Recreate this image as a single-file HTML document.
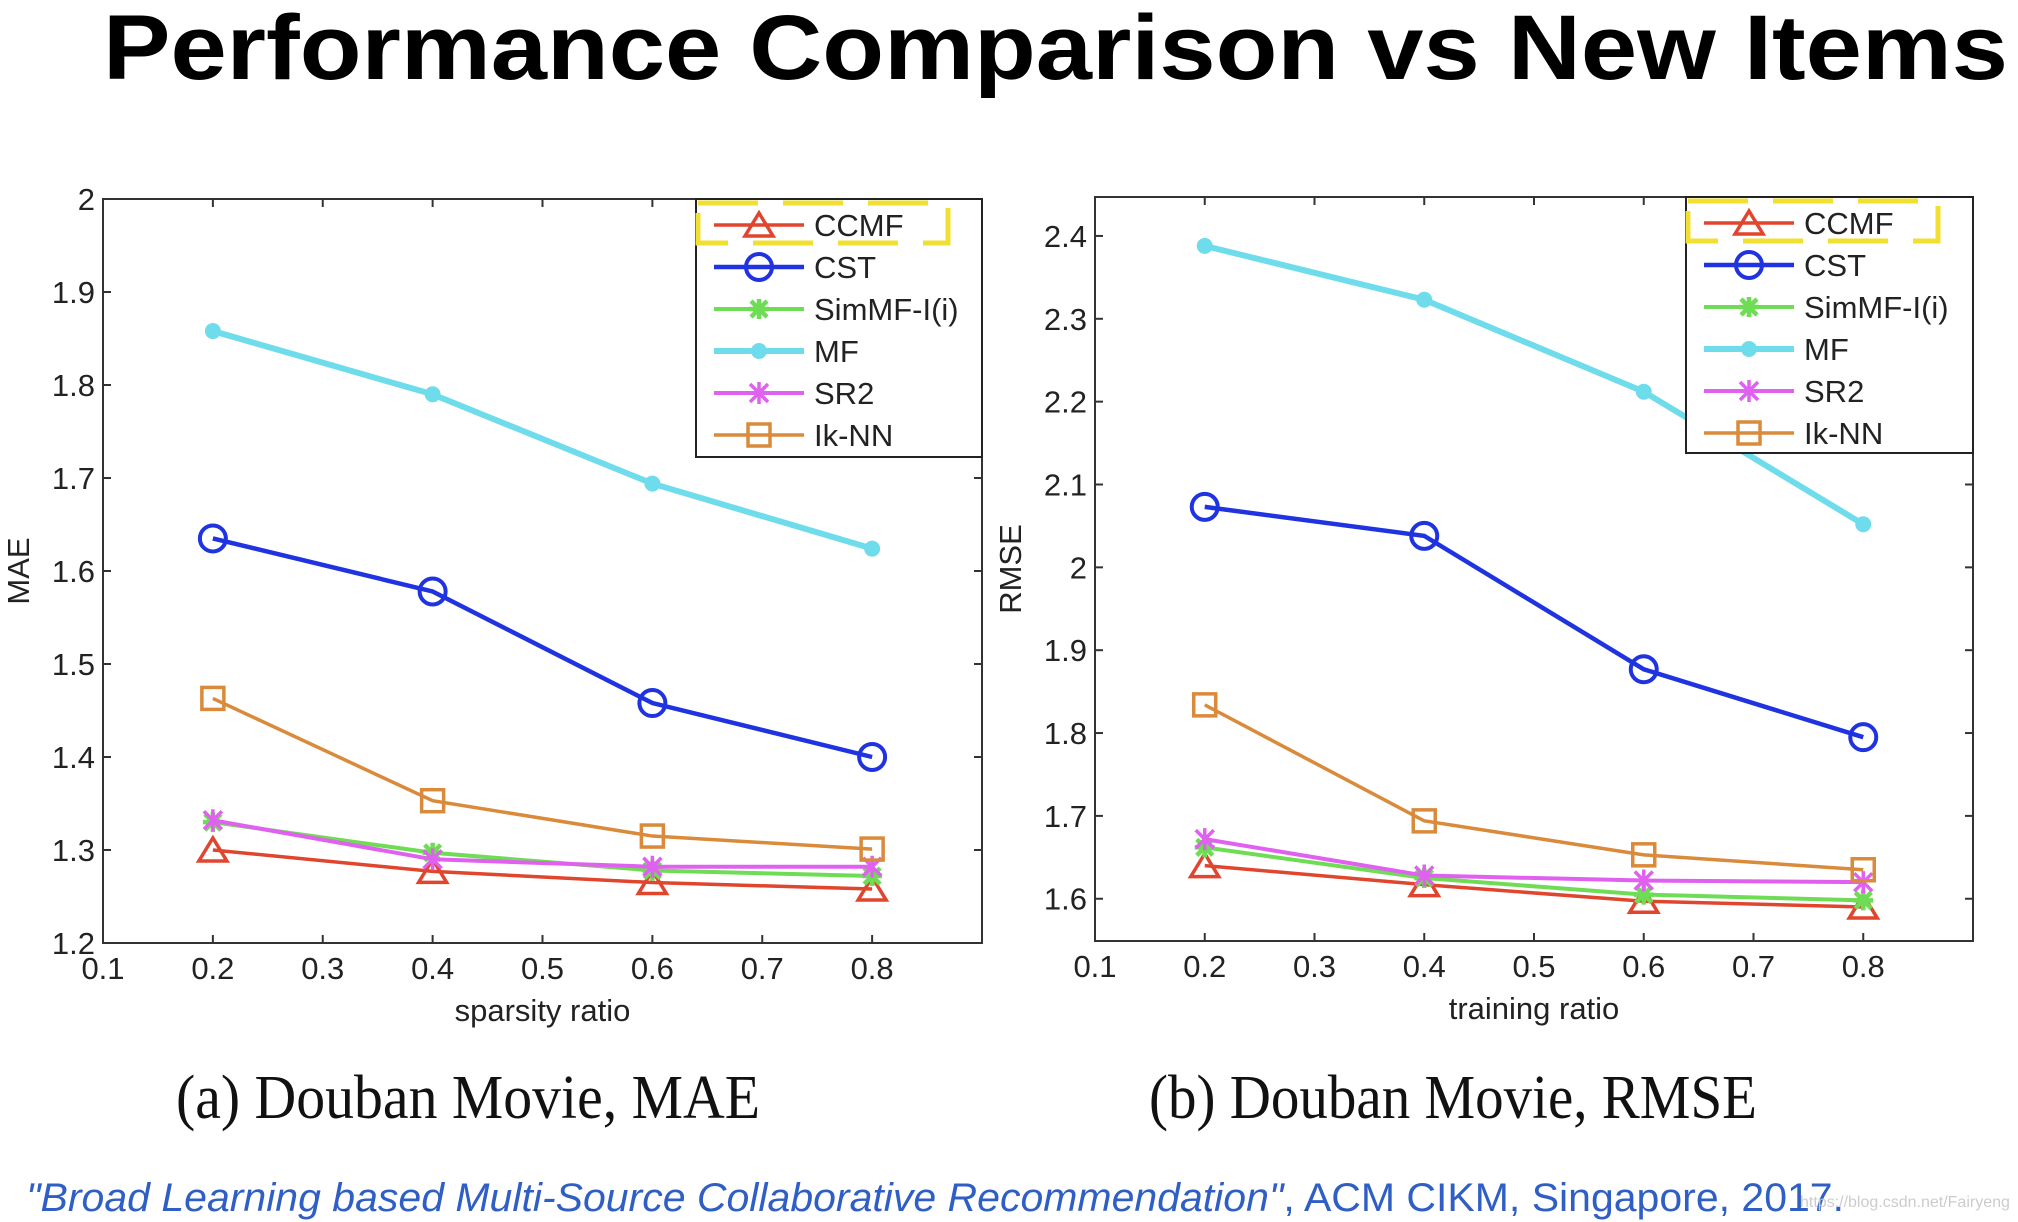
<!DOCTYPE html>
<html><head><meta charset="utf-8"><style>
html,body{margin:0;padding:0;background:#fff;width:2018px;height:1222px;overflow:hidden}
svg{display:block}
</style></head><body>
<svg id="root" width="2018" height="1222" viewBox="0 0 2018 1222" xmlns="http://www.w3.org/2000/svg">
<text x="103" y="79" font-family="Liberation Sans, sans-serif" font-weight="bold" font-size="92" fill="#000" textLength="1905" lengthAdjust="spacingAndGlyphs">Performance Comparison vs New Items</text>
<g id="chartA"></g>
<g id="chartB"></g>
<text x="176" y="1118" font-family="Liberation Serif, serif" font-size="62" fill="#111" textLength="584" lengthAdjust="spacingAndGlyphs">(a) Douban Movie, MAE</text>
<text x="1149" y="1118" font-family="Liberation Serif, serif" font-size="62" fill="#111" textLength="608" lengthAdjust="spacingAndGlyphs">(b) Douban Movie, RMSE</text>
<text x="26" y="1211" font-family="Liberation Sans, sans-serif" font-size="40" fill="#2f5fc4" textLength="1818" lengthAdjust="spacingAndGlyphs"><tspan font-style="italic">"Broad Learning based Multi-Source Collaborative Recommendation"</tspan>, ACM CIKM, Singapore, 2017.</text>
<text x="1800" y="1207" font-family="Liberation Sans, sans-serif" font-size="16" fill="#ccc">https://blog.csdn.net/Fairyeng</text>
</svg>
<script>
const xValues = [0.2, 0.4, 0.6, 0.8];
const xTicks = ["0.1","0.2","0.3","0.4","0.5","0.6","0.7","0.8"];
const seriesNames = ["CCMF","CST","SimMF-I(i)","MF","SR2","Ik-NN"];
const maeCCMF = [1.300, 1.277, 1.265, 1.258];
const maeCST = [1.635, 1.578, 1.458, 1.400];
const maeSimMF = [1.330, 1.297, 1.278, 1.272];
const maeMF = [1.858, 1.790, 1.694, 1.624];
const maeSR2 = [1.332, 1.290, 1.282, 1.282];
const maeIkNN = [1.463, 1.353, 1.315, 1.301];
const maeTicks = ["1.2","1.3","1.4","1.5","1.6","1.7","1.8","1.9","2"];
const rmseCCMF = [1.640, 1.617, 1.597, 1.590];
const rmseCST = [2.073, 2.038, 1.877, 1.795];
const rmseSimMF = [1.662, 1.625, 1.605, 1.598];
const rmseMF = [2.388, 2.323, 2.212, 2.052];
const rmseSR2 = [1.672, 1.628, 1.622, 1.620];
const rmseIkNN = [1.834, 1.694, 1.653, 1.635];
const rmseTicks = ["1.6","1.7","1.8","1.9","2","2.1","2.2","2.3","2.4"];

const NS = "http://www.w3.org/2000/svg";
const colors = ["#e0452e","#1f33e0","#6fdc55","#6fdcec","#e060f0","#d98a3a"];
const markers = ["tri","circ","star","dot","x","sq"];
const widths = [3.5,4.5,4,6,4,3.5];
function mk(tag, attrs, parent){const e=document.createElementNS(NS,tag);for(const k in attrs)e.setAttribute(k,attrs[k]);parent.appendChild(e);return e;}
function marker(g,type,x,y,c){
  let m;
  if(type==="tri") m=mk("polygon",{points:`${x},${y-12} ${x-14},${y+11} ${x+14},${y+11}`,fill:"none",stroke:c,"stroke-width":3.5},g);
  else if(type==="circ") m=mk("circle",{cx:x,cy:y,r:13,fill:"none",stroke:c,"stroke-width":4},g);
  else if(type==="sq") m=mk("rect",{x:x-11,y:y-11,width:22,height:22,fill:"none",stroke:c,"stroke-width":3.5},g);
  else if(type==="dot") m=mk("circle",{cx:x,cy:y,r:8,fill:c},g);
  else if(type==="x") m=mk("path",{d:`M${x-9} ${y-9}L${x+9} ${y+9}M${x-9} ${y+9}L${x+9} ${y-9}M${x} ${y-11}L${x} ${y+11}`,stroke:c,"stroke-width":3.5},g);
  else m=mk("path",{d:`M${x-10} ${y}L${x+10} ${y}M${x} ${y-10}L${x} ${y+10}M${x-8} ${y-8}L${x+8} ${y+8}M${x-8} ${y+8}L${x+8} ${y-8}`,stroke:c,"stroke-width":4.5},g);
  return m;
}
function chart(g, box, yMin, yMax, yTicks, series, ylabel, xlabel, leg){
  const X=v=>box.l+(v-0.1)/0.8*(box.r-box.l);
  const Y=v=>box.b-(v-yMin)/(yMax-yMin)*(box.b-box.t);
  const frame=mk("rect",{x:box.l,y:box.t,width:box.r-box.l,height:box.b-box.t,fill:"none",stroke:"#333","stroke-width":2},g);
  
  
  xTicks.forEach(t=>{const v=parseFloat(t),x=X(v);
    mk("line",{x1:x,y1:box.b,x2:x,y2:box.b-8,stroke:"#333","stroke-width":2},g);
    mk("line",{x1:x,y1:box.t,x2:x,y2:box.t+8,stroke:"#333","stroke-width":2},g);
    const tx=mk("text",{x:x,y:box.b+36,"text-anchor":"middle","font-family":"Liberation Sans, sans-serif","font-size":31,fill:"#222"},g);tx.textContent=t;
    
    
  });
  yTicks.forEach(t=>{const v=parseFloat(t),y=Y(v);
    mk("line",{x1:box.l,y1:y,x2:box.l+8,y2:y,stroke:"#333","stroke-width":2},g);
    mk("line",{x1:box.r,y1:y,x2:box.r-8,y2:y,stroke:"#333","stroke-width":2},g);
    const tx=mk("text",{x:box.l-8,y:y+11,"text-anchor":"end","font-family":"Liberation Sans, sans-serif","font-size":31,fill:"#222"},g);tx.textContent=t;
    
    
  });
  const yl=mk("text",{x:0,y:0,transform:`translate(${box.l-74},${(box.t+box.b)/2}) rotate(-90)`,"text-anchor":"middle","font-family":"Liberation Sans, sans-serif","font-size":31,fill:"#222"},g);yl.textContent=ylabel;
  
  
  const xl=mk("text",{x:(box.l+box.r)/2,y:box.b+78,"text-anchor":"middle","font-family":"Liberation Sans, sans-serif","font-size":31,fill:"#222"},g);xl.textContent=xlabel;
  
  
  series.forEach((s,i)=>{
    const sg=mk("g",{},g);
    
    
    const pts=s.map((v,j)=>`${X(xValues[j])},${Y(v)}`).join(" ");
    mk("polyline",{points:pts,fill:"none",stroke:colors[i],"stroke-width":widths[i]},sg);
    s.forEach((v,j)=>{const m=marker(sg,markers[i],X(xValues[j]),Y(v),colors[i]);
      
      });
  });
  const lg=mk("g",{},g);
  
  
  mk("rect",{x:leg.x,y:leg.y,width:leg.w,height:leg.h,fill:"#fff",stroke:"#222","stroke-width":2},lg);
  seriesNames.forEach((n,i)=>{
    const y=leg.y+26+i*42;
    const e=mk("g",{},lg);
    
    
    mk("line",{x1:leg.x+18,y1:y,x2:leg.x+108,y2:y,stroke:colors[i],"stroke-width":widths[i]},e);
    marker(e,markers[i],leg.x+63,y,colors[i]);
    const t=mk("text",{x:leg.x+118,y:y+11,"font-family":"Liberation Sans, sans-serif","font-size":31,fill:"#222"},e);t.textContent=n;
  });
  const hb=mk("rect",{x:leg.x+2,y:leg.y+4,width:250,height:40,fill:"none",stroke:"#f2e030","stroke-width":5,"stroke-dasharray":"60 25"},lg);
  
  
}
chart(document.getElementById("chartA"),{l:103,r:982,t:199,b:943},1.2,2.0,maeTicks,
  [maeCCMF,maeCST,maeSimMF,maeMF,maeSR2,maeIkNN],"MAE","sparsity ratio",{x:696,y:199,w:286,h:258});
chart(document.getElementById("chartB"),{l:1095,r:1973,t:197,b:941},1.549,2.447,rmseTicks,
  [rmseCCMF,rmseCST,rmseSimMF,rmseMF,rmseSR2,rmseIkNN],"RMSE","training ratio",{x:1686,y:197,w:287,h:256});
</script>
</body></html>
